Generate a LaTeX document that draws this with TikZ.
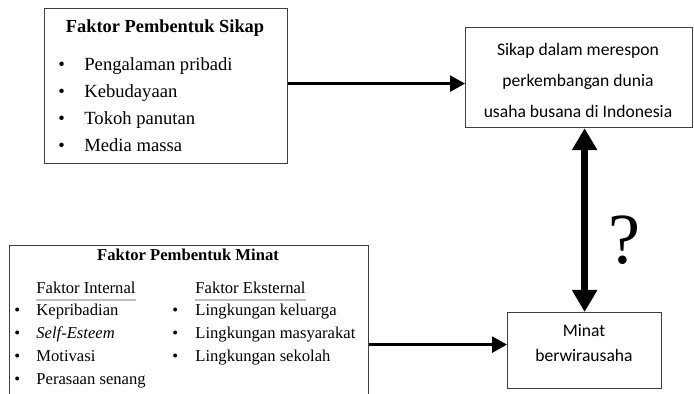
\documentclass[tikz,border=0pt]{standalone}
\usepackage{fontspec}
\setmainfont{Liberation Serif}
\newfontfamily\calibri{Carlito}
\usetikzlibrary{arrows.meta}

\begin{document}
\begin{tikzpicture}[x=0.5pt, y=-0.5pt,
    kotak/.style={draw=black!75, line width=0.6pt, anchor=north west, inner sep=0pt},
    judulA/.style={font=\fontsize{9.2}{11}\selectfont\bfseries},
    isiA/.style={font=\fontsize{9.3}{11}\selectfont, anchor=base west, inner sep=0pt},
    judulB/.style={font=\fontsize{8.3}{10}\selectfont\bfseries},
    isiB/.style={font=\fontsize{8.3}{10}\selectfont, anchor=base west, inner sep=0pt},
    teksC/.style={font=\calibri\fontsize{8.8}{15.5}\selectfont, align=center, inner sep=0pt},
    panah/.style={line width=1.3pt, -{Triangle[width=8pt,length=7.5pt]}},
    panahbesar/.style={line width=3.5pt, {Triangle[width=12pt,length=11pt]}-{Triangle[width=12pt,length=11pt]}}
]
    % --- 画布 ---
    \useasboundingbox (0,0) rectangle (694,394);
    \clip (0,0) rectangle (694,394);

    % --- 方框 ---
    \node[kotak, minimum width=121.5pt, minimum height=77.5pt] (sikapfak) at (44,8) {};
    \node[kotak, minimum width=113.5pt, minimum height=50pt] (sikap) at (465,27) {};
    \node[kotak, minimum width=179.5pt, minimum height=85pt] (minatfak) at (9,245) {};
    \node[kotak, minimum width=77pt, minimum height=38pt] (minat) at (507,312) {};

    % --- 右侧文字 ---
    \node[teksC] (tsikap) at (578,80) {Sikap dalam merespon\\ perkembangan dunia\\ usaha busana di Indonesia};
    \node[teksC, font=\calibri\fontsize{8.8}{12.5}\selectfont] (tminat) at (584,343) {Minat\\ berwirausaha};

    % --- Faktor Pembentuk Sikap ---
    \node[judulA] (judulsikap) at (165,28) {Faktor Pembentuk Sikap};
    \foreach \txt [count=\i] in {Pengalaman pribadi, Kebudayaan, Tokoh panutan, Media massa} {
        \node[isiA] (ba-\i) at (58,44+27*\i) {\textbullet};
        \node[isiA] (ia-\i) at (84,44+27*\i) {\txt};
    }

    % --- Faktor Pembentuk Minat ---
    \node[judulB] (judulminat) at (188,255) {Faktor Pembentuk Minat};
    \node[isiB] (hint) at (36,294) {Faktor Internal};
    \node[isiB] (heks) at (195,294) {Faktor Eksternal};
    \draw[black!25, line width=0.7pt] ([yshift=-3pt]hint.base west) -- ([yshift=-3pt]hint.base east);
    \draw[black!25, line width=0.7pt] ([yshift=-3pt]heks.base west) -- ([yshift=-3pt]heks.base east);
    \foreach \txt [count=\i] in {Kepribadian, \textit{Self-Esteem}, Motivasi, Perasaan senang} {
        \node[isiB] (bi-\i) at (14,292+23*\i) {\textbullet};
        \node[isiB] (ii-\i) at (36,292+23*\i) {\txt};
    }
    \foreach \txt [count=\i] in {Lingkungan keluarga, Lingkungan masyarakat, Lingkungan sekolah} {
        \node[isiB] (be-\i) at (172,292+23*\i) {\textbullet};
        \node[isiB] (ie-\i) at (195,292+23*\i) {\txt};
    }

    % --- 箭头 ---
    \coordinate (pa) at ([yshift=1.25pt]sikapfak.east);
    \draw[panah] (pa) -- (pa -| sikap.west);
    \coordinate (pb) at ([yshift=3pt]minat.west);
    \draw[panah] (pb -| minatfak.east) -- (pb);
    \draw[panahbesar] (minat.north) -- (minat.north |- sikap.south);

    % 问号
    \node[font=\fontsize{36}{40}\selectfont] (tanya) at (624,240) {?};

\end{tikzpicture}
\end{document}
